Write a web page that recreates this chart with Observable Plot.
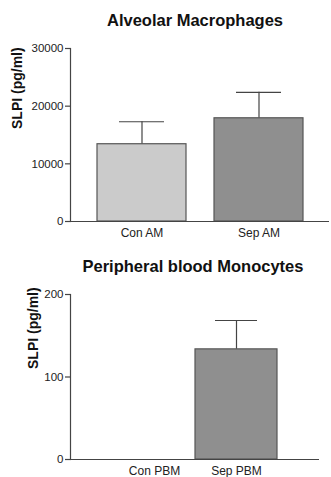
<!DOCTYPE html>
<html>
<head>
<meta charset="utf-8">
<script src="https://cdn.jsdelivr.net/npm/d3@7"></script>
<script src="https://cdn.jsdelivr.net/npm/@observablehq/plot@0.6"></script>
<style>
  body { margin: 0; background: #fff; font-family: "Liberation Sans", Arial, sans-serif; }
  #wrap { position: relative; width: 331px; height: 477px; overflow: hidden; }
  .title { position: absolute; z-index: 2; font-weight: bold; font-size: 16.5px; line-height: 16.5px; color: #111; text-align: center; white-space: nowrap; }
  .panel { position: absolute; left: 0; z-index: 1; }
</style>
</head>
<body>
<div id="wrap">
  <div class="panel" id="p1" style="top:0px;"></div>
  <div class="panel" id="p2" style="top:240px;"></div>
  <div class="title" style="left:60px;width:270px;top:12px;">Alveolar Macrophages</div>
  <div class="title" style="left:56px;width:274px;top:258px;">Peripheral blood Monocytes</div>
</div>
<script>
// Panel 1: Alveolar Macrophages
const amGroups = ["Con AM", "Sep AM"];
const amMeans = [13400, 17900];
const amUpper = [17300, 22400];
const amColors = ["#cbcbcb", "#8f8f8f"];
const amTicks = [0, 10000, 20000, 30000];

// Panel 2: Peripheral blood Monocytes
const pbmGroups = ["Con PBM", "Sep PBM"];
const pbmMeans = [0, 133.5];
const pbmUpper = [null, 168.5];
const pbmColors = ["#cbcbcb", "#8f8f8f"];
const pbmTicks = [0, 100, 200];

const yLabel = "SLPI (pg/ml)";

function makePanel({groups, means, upper, colors, ticks, yMax, height, marginTop, marginBottom, marginRight, padIn, padOut, capInset, labelDx, labelDy}) {
  const data = groups.map((g, i) => ({g, v: means[i], u: upper[i], c: colors[i]}));
  const bars = data.filter(d => d.v > 0);
  const errs = data.filter(d => d.u != null);
  return Plot.plot({
    width: 331,
    height,
    marginLeft: 70,
    marginRight,
    marginTop,
    marginBottom,
    style: {fontFamily: "Liberation Sans, Arial, sans-serif", fontSize: "12px", color: "#222", background: "transparent"},
    x: {domain: groups, paddingInner: padIn, paddingOuter: padOut, label: null},
    y: {domain: [0, yMax], label: null},
    marks: [
      Plot.ruleX(errs, {x: "g", y1: "v", y2: "u", stroke: "#444", strokeWidth: 1.2}),
      Plot.tickY(errs, {x: "g", y: "u", stroke: "#444", strokeWidth: 1.2, insetLeft: capInset, insetRight: capInset}),
      Plot.barY(bars, {x: "g", y: "v", fill: "c", stroke: "#555", strokeWidth: 1.2}),
      Plot.axisY({ticks, tickSize: 5, tickPadding: 2, tickFormat: d3.format("d"), stroke: "#444", strokeWidth: 1.2, fill: "#222", fontSize: 11.5, label: null}),
      Plot.frame({anchor: "left", stroke: "#444", strokeWidth: 1.2}),
      Plot.axisX({tickSize: 0, tickPadding: 7, fill: "#222", fontSize: 12, label: null}),
      Plot.ruleY([0], {stroke: "#444", strokeWidth: 1.2}),
      Plot.text([yLabel], {frameAnchor: "left", dx: labelDx, dy: labelDy, rotate: -90, fontWeight: "bold", fontSize: 14, fill: "#111"})
    ]
  });
}

document.getElementById("p1").appendChild(makePanel({
  groups: amGroups, means: amMeans, upper: amUpper, colors: amColors, ticks: amTicks,
  yMax: 30000, height: 240, marginTop: 48, marginBottom: 19, marginRight: 2,
  padIn: 0.24, padOut: 0.22, capInset: 22, labelDx: -53, labelDy: -6
}));

document.getElementById("p2").appendChild(makePanel({
  groups: pbmGroups, means: pbmMeans, upper: pbmUpper, colors: pbmColors, ticks: pbmTicks,
  yMax: 200, height: 237, marginTop: 54, marginBottom: 18, marginRight: 12,
  padIn: 0.0, padOut: 0.51, capInset: 20, labelDx: -37, labelDy: -8
}));
</script>
</body>
</html>
